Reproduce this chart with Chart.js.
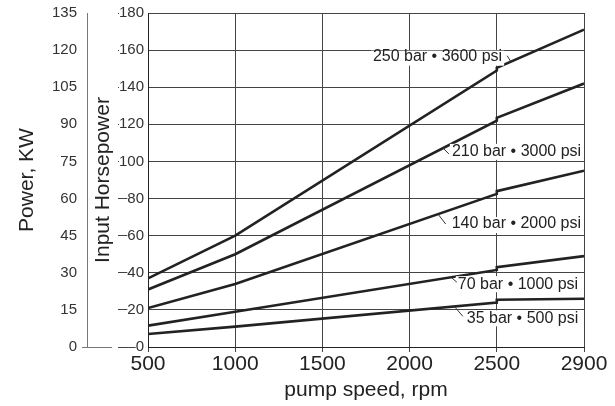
<!DOCTYPE html>
<html>
<head>
<meta charset="utf-8">
<script src="https://cdn.jsdelivr.net/npm/chart.js@4.4.0/dist/chart.umd.min.js"></script>
<style>
  html, body { margin: 0; padding: 0; background: #fff; }
</style>
</head>
<body>
<canvas id="myChart" width="615" height="406"></canvas>
<script>
// categories along the bottom (equally spaced in the original)
var rpmLabels = ['500', '1000', '1500', '2000', '2500', '2900'];

// rpm of each read point, 2500 twice because the curves step there
var rpmPoints = [500, 1000, 2500, 2500, 2900];

// input horsepower
var hp250 = [37, 60, 149, 150.5, 171];
var hp210 = [31, 50, 122, 123.5, 142];
var hp140 = [21, 34, 82.5, 84, 95];
var hp70  = [11.5, 19, 41.5, 43, 49];
var hp35  = [7, 11, 24, 25.5, 26];

var seriesNames = ['250 bar • 3600 psi', '210 bar • 3000 psi', '140 bar • 2000 psi', '70 bar • 1000 psi', '35 bar • 500 psi'];

var FONT = '"Liberation Sans", Arial, Helvetica, sans-serif';
Chart.defaults.font.family = FONT;
Chart.defaults.color = '#222';

function toPoints(vals) {
  return vals.map(function(v, i) {
    return { x: rpmLabels.indexOf(String(rpmPoints[i])), y: v };
  });
}

var allSeries = [hp250, hp210, hp140, hp70, hp35];
var datasets = allSeries.map(function(s, i) {
  return {
    label: seriesNames[i],
    data: toPoints(s),
    borderColor: '#222',
    borderWidth: 2.6,
    pointRadius: 0,
    tension: 0,
    fill: false,
    yAxisID: 'y'
  };
});

// text placed next to the curves: at = [category index, hp], box = [up, down] px
var curveLabels = [
  { text: seriesNames[0], at: [3.32, 157], box: [5, 10], side: 'right', from: [5, 0], to: [4.163, 153.7] },
  { text: seriesNames[1], at: [4.226, 105.7], box: [7, 9], side: 'left', from: [-3, 3], to: [3.383, 107.2] },
  { text: seriesNames[2], at: [4.224, 66.8], box: [6, 10], side: 'left', from: [-6, 1], to: [3.326, 71.6] },
  { text: seriesNames[3], at: [4.243, 34.4], box: [7, 9], side: 'left', from: [-1, -1], to: [3.475, 37.6] },
  { text: seriesNames[4], at: [4.295, 16], box: [7, 9], side: 'left', from: [-4, -1], to: [3.52, 21.5] }
];

var labelPlugin = {
  id: 'curveLabels',
  afterDatasetsDraw: function(chart) {
    var ctx = chart.ctx, xs = chart.scales.x, ys = chart.scales.y;
    ctx.save();
    ctx.font = '16px ' + FONT;
    ctx.textBaseline = 'middle';
    ctx.textAlign = 'center';
    curveLabels.forEach(function(l) {
      var cx = xs.getPixelForValue(l.at[0]);
      var cy = ys.getPixelForValue(l.at[1]);
      var w = ctx.measureText(l.text).width;
      ctx.fillStyle = '#fff';
      ctx.fillRect(cx - w / 2 - 2, cy - l.box[0], w + 4, l.box[0] + l.box[1]);
      ctx.fillStyle = '#222';
      ctx.fillText(l.text, cx, cy + 1);
      // leader line
      var sx = (l.side == 'right' ? cx + w / 2 : cx - w / 2) + l.from[0];
      var sy = cy + l.from[1];
      ctx.strokeStyle = '#333';
      ctx.lineWidth = 1;
      ctx.beginPath();
      ctx.moveTo(sx, sy);
      ctx.lineTo(xs.getPixelForValue(l.to[0]), ys.getPixelForValue(l.to[1]));
      ctx.stroke();
    });
    ctx.restore();
  },
  afterDraw: function(chart) {
    // the little base line under the kW axis
    var kw = chart.scales.kw, ctx = chart.ctx;
    var y0 = Math.round(kw.getPixelForValue(0)) + 0.5;
    ctx.save();
    ctx.strokeStyle = '#777';
    ctx.lineWidth = 1;
    ctx.beginPath();
    ctx.moveTo(kw.right - 5, y0);
    ctx.lineTo(kw.right + 25, y0);
    ctx.stroke();
    ctx.restore();
  }
};

var ctx = document.getElementById('myChart').getContext('2d');
var myChart = new Chart(ctx, {
  type: 'line',
  data: { datasets: datasets },
  options: {
    responsive: false,
    animation: false,
    layout: { padding: { left: 13, right: 31, top: 13, bottom: 3 } },
    plugins: {
      legend: { display: false },
      tooltip: { enabled: false }
    },
    scales: {
      x: {
        type: 'linear',
        min: 0,
        max: 5,
        afterFit: function(scale) { scale.height = 56; scale.paddingLeft = 0; scale.paddingRight = 0; },
        ticks: {
          stepSize: 1,
          font: { size: 21 },
          color: '#222',
          padding: 0,
          maxRotation: 0,
          callback: function(v) { return rpmLabels[v]; }
        },
        grid: { color: '#444', lineWidth: 1, tickLength: 5, tickColor: '#444' },
        border: { color: '#222', width: 1 },
        title: { display: true, text: 'pump speed, rpm', font: { size: 21 }, color: '#222', padding: { top: 1, bottom: 0 } }
      },
      y: {
        position: 'left',
        weight: 0,
        min: 0,
        max: 180,
        afterFit: function(scale) { scale.width = 61; scale.paddingTop = 0; scale.paddingBottom = 0; },
        ticks: {
          stepSize: 20,
          font: { size: 15 },
          color: '#333',
          padding: -26,
          showLabelBackdrop: true,
          backdropColor: '#fff',
          backdropPadding: { top: 0, bottom: 0, left: 0, right: 4 }
        },
        afterBuildTicks: function(scale) {
          scale.ticks = [];
          for (var v = 0; v <= 180; v += 10) scale.ticks.push({ value: v });
        },
        grid: { color: '#444', lineWidth: 1, tickLength: 30, tickColor: function(c) { return c.tick.value % 20 == 0 ? '#444' : 'rgba(0,0,0,0)'; } },
        border: { color: '#222', width: 1 },
        title: { display: true, text: 'Input Horsepower', font: { size: 21 }, color: '#222', padding: { top: 4, bottom: 3 } }
      },
      kw: {
        position: 'left',
        weight: 1,
        min: 0,
        max: 135,
        afterFit: function(scale) { scale.width = 74; scale.paddingTop = 0; scale.paddingBottom = 0; },
        ticks: { stepSize: 15, font: { size: 15 }, color: '#333', padding: 10 },
        grid: { drawOnChartArea: false, drawTicks: false },
        border: { color: '#777', width: 1 },
        title: { display: true, text: 'Power, KW', font: { size: 21 }, color: '#222', padding: { top: 2, bottom: 12 } }
      }
    }
  },
  plugins: [labelPlugin]
});
</script>
</body>
</html>
